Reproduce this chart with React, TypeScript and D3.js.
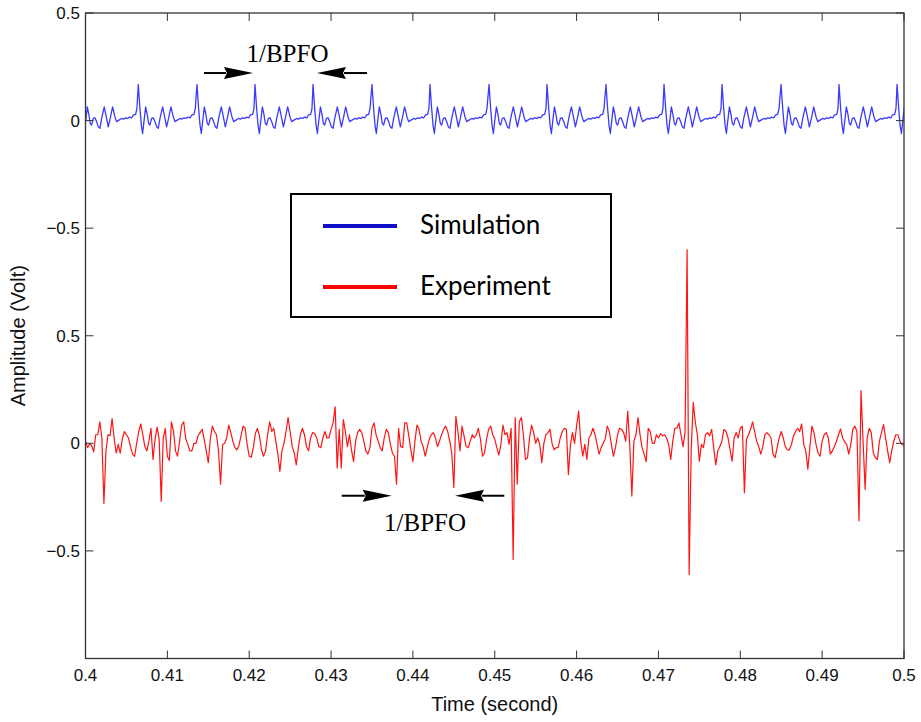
import React from "react";
import * as d3 from "d3";

// ---------------- data ----------------
const xTickValues = [0.4, 0.41, 0.42, 0.43, 0.44, 0.45, 0.46, 0.47, 0.48, 0.49, 0.5];
const xTickLabels = ["0.4", "0.41", "0.42", "0.43", "0.44", "0.45", "0.46", "0.47", "0.48", "0.49", "0.5"];
const panelTickValues = [0.5, 0, -0.5];
const panelTickLabels = ["0.5", "0", "\u22120.5"];

// Simulation: impulse instants (s)
const simImpactTimes = [
  0.39932, 0.40645, 0.41362, 0.42071, 0.4278, 0.435, 0.44209, 0.4493,
  0.45639, 0.46359, 0.47068, 0.47777, 0.48498, 0.49206, 0.49915,
];
// Simulation: one impulse response (ms after impact, volts)
const simPulseOffsetsMs = [
  0, 0.2, 0.37, 0.53, 0.69, 0.9, 1.1, 1.26, 1.42, 1.63, 1.83, 2.04, 2.24, 2.44, 2.65, 2.97,
  3.26, 3.46, 3.7, 3.99, 4.27, 4.48, 4.76, 5.09, 5.33, 5.58, 5.82, 6.06, 6.31, 6.55, 6.8, 6.96,
];
const simPulseValues = [
  0.168, 0.056, -0.021, -0.06, -0.005, 0.064, 0.026, -0.013, -0.021, 0.01, 0.013, -0.005,
  -0.029, -0.036, 0.01, 0.064, 0.01, -0.029, 0.01, 0.064, 0.018, -0.005, 0.002, 0.01, 0.007,
  0.013, 0.01, 0.016, 0.013, 0.026, 0.029, 0.056,
];

// Experiment: samples every 0.25 ms from 0.4 s
const expStart = 0.4;
const expStep = 0.00025;
const expValues = [
  0.01, -0.02, -0.003, -0.01, -0.04, 0.04, 0.04, 0.1, 0.025, -0.28,
  -0.035, 0.04, 0.035, 0.115, 0.025, -0.045, -0.005, -0.045, 0.02, 0.055,
  0.04, 0.025, -0.015, -0.05, -0.06, 0.0, 0.055, 0.09, 0.04, -0.015,
  -0.035, 0.01, 0.07, -0.075, 0.02, 0.075, 0.02, -0.27, 0.025, 0.07,
  -0.06, -0.08, 0.1, 0.055, -0.035, -0.06, 0.01, 0.085, 0.1, 0.02,
  -0.005, -0.035, -0.035, 0.0, 0.0, 0.035, 0.05, 0.065, 0.02, -0.035,
  -0.09, 0.02, 0.08, 0.055, 0.04, -0.035, -0.19, -0.005, 0.0, 0.025,
  0.085, 0.05, 0.01, -0.02, -0.03, -0.01, 0.035, 0.08, 0.07, -0.005,
  -0.06, -0.065, -0.02, 0.045, 0.07, 0.035, -0.03, -0.06, -0.035, 0.04,
  0.1, 0.055, 0.07, 0.01, -0.05, -0.13, -0.035, 0.0, 0.055, 0.12,
  0.055,
  -0.013, -0.045, -0.1, -0.02, 0.04, 0.07, 0.04, -0.015, -0.035, 0.025,
  0.05, 0.045, 0.025, -0.015, -0.02, 0.025, 0.055, 0.025, 0.025, 0.065,
  0.095, 0.17, -0.115, 0.065, -0.115, 0.11, 0.055, -0.015, 0.04, -0.03,
  -0.085, 0.01, 0.05, 0.065, 0.05, 0.01, -0.035, -0.05, -0.02, 0.07,
  0.095, 0.04, 0.01, -0.02, -0.035, 0.025, 0.065, 0.05, -0.005, -0.045,
  -0.06, -0.19, 0.07, -0.015, -0.02, 0.095, 0.095, 0.035, -0.03, -0.085,
  0.01, 0.085, 0.065, 0.01, -0.015, -0.06, -0.02, 0.02, 0.04, 0.05,
  0.025, -0.015, 0.01, 0.04, 0.065, 0.08, 0.055, 0.01, -0.045, -0.205,
  0.125, 0.055, -0.035, 0.08, 0.035, -0.015, -0.02, 0.01, 0.04, 0.025,
  0.04, 0.07, 0.02, -0.06, -0.045, 0.02, 0.065, 0.08, 0.04, 0.02,
  -0.02, -0.055, -0.005, 0.085, 0.04, 0.05, -0.005, 0.07, -0.54, 0.12,
  -0.19, 0.1, 0.12, 0.04, -0.075, -0.067, 0.025, 0.085, 0.05, 0.0,
  0.025, -0.005, -0.09, 0.0, 0.04, 0.05, 0.065, 0.0, -0.03, -0.02,
  -0.02, 0.025, 0.055, 0.07, 0.065, -0.145, -0.005, 0.05, 0.0, 0.08,
  0.15, 0.01, -0.06, -0.005, -0.075, 0.025, 0.04, 0.07, 0.04, -0.005,
  -0.05, -0.02, 0.0, 0.02, 0.08, 0.055, -0.005, -0.06, -0.02, 0.04,
  0.07, 0.065, 0.05, 0.01, 0.15, -0.015, -0.245, 0.01, 0.04, 0.12,
  0.04, -0.02, -0.05, -0.085, 0.07, 0.055, 0.0, 0.0, 0.04, 0.025,
  0.045, 0.035, 0.04, 0.025, -0.005, -0.075, 0.01, 0.07, 0.07, 0.095,
  0.04, -0.015, 0.05, 0.9, -0.61, -0.03, 0.19, 0.1, 0.04, -0.083,
  -0.005, -0.02, 0.04, 0.05, 0.035, 0.065, -0.02, -0.1, -0.035, -0.015,
  0.01, 0.065, 0.055, 0.025, -0.03, -0.083, 0.025, 0.05, 0.025, 0.07,
  0.08, -0.23, 0.02, 0.04, 0.065, 0.1, 0.055, 0.01, -0.015, -0.05,
  -0.015, 0.04, 0.05, 0.04, 0.025, -0.05, -0.067, -0.02, 0.025, 0.055,
  0.025, -0.015, -0.03, -0.03, -0.005, 0.035, 0.055, 0.07, 0.055, 0.09,
  -0.005, -0.035, -0.12, -0.02, 0.08, 0.05, -0.005, -0.045, -0.06, 0.01,
  0.04, 0.05, 0.025, -0.05, -0.035, -0.015, 0.01, 0.04, 0.067, 0.025,
  0.007, -0.005, -0.05, -0.005, 0.065, 0.08, 0.055, -0.36, 0.245, 0.01,
  -0.215, 0.025, 0.07, 0.05, -0.045, -0.067, -0.075, 0.01, 0.05, 0.087,
  0.025, -0.035, -0.09, -0.035, 0.01, 0.04, 0.04, 0.01, -0.005, -0.01,
];

const seriesNames = ["Simulation", "Experiment"];
const annotationText = "1/BPFO";

// ---------------- layout ----------------
const W = 921;
const H = 722;
const M = { left: 85.5, right: 904, top: 13, bottom: 658.5 };
const SIM_OFFSET = 1.0;
const EXP_OFFSET = -0.5;

const x = d3.scaleLinear().domain([0.4, 0.5]).range([M.left, M.right]);
const y = d3.scaleLinear().domain([-1.5, 1.5]).range([M.bottom, M.top]);

type P = [number, number];

const simPoints: P[] = [];
simImpactTimes.forEach((t0) =>
  simPulseOffsetsMs.forEach((o, k) => simPoints.push([t0 + o / 1000, simPulseValues[k]]))
);
const expPoints: P[] = expValues.map((v, i) => [expStart + i * expStep, v]);

const lineFor = (offset: number) =>
  d3
    .line<P>()
    .x((d) => x(d[0]))
    .y((d) => y(d[1] + offset));

const yTicks: { v: number; label: string }[] = [];
panelTickValues.forEach((v, i) => yTicks.push({ v: v + SIM_OFFSET, label: panelTickLabels[i] }));
panelTickValues.forEach((v, i) => yTicks.push({ v: v + EXP_OFFSET, label: panelTickLabels[i] }));

function Arrow({ from, to, offset }: { from: P; to: P; offset: number }) {
  const x1 = x(from[0]);
  const x2 = x(to[0]);
  const yy = y(from[1] + offset);
  const dir = Math.sign(x2 - x1);
  const headLen = 29;
  const half = 6;
  const base = x2 - dir * headLen;
  return (
    <g>
      <line x1={x1} y1={yy} x2={base + dir * 2} y2={yy} stroke="#000" strokeWidth={2} />
      <path d={`M${x2},${yy} L${base},${yy - half} L${base + dir * 3},${yy} L${base},${yy + half} Z`} fill="#000" />
    </g>
  );
}

export default function App() {
  const tickLen = 8;
  const axisColor = "#333";
  return (
    <svg
      width={W}
      height={H}
      style={{ position: "absolute", left: 0, top: 0, background: "#fff" }}
      fontFamily="'Liberation Sans', Arial, sans-serif"
    >
      <rect x={0} y={0} width={W} height={H} fill="#fff" />
      <defs>
        <clipPath id="plotClip">
          <rect x={M.left} y={M.top} width={M.right - M.left} height={M.bottom - M.top} />
        </clipPath>
      </defs>

      {/* series */}
      <g clipPath="url(#plotClip)">
        <path
          d={lineFor(SIM_OFFSET)(simPoints) || ""}
          fill="none"
          stroke="#3a3aff"
          strokeWidth={1.3}
          strokeLinejoin="round"
        />
        <path
          d={lineFor(EXP_OFFSET)(expPoints) || ""}
          fill="none"
          stroke="#ff1414"
          strokeWidth={1.2}
          strokeLinejoin="round"
        />
      </g>

      {/* axes box */}
      <rect
        x={M.left}
        y={M.top}
        width={M.right - M.left}
        height={M.bottom - M.top}
        fill="none"
        stroke={axisColor}
        strokeWidth={1.3}
      />

      {/* x ticks */}
      {xTickValues.map((v, i) => (
        <g key={"xt" + i}>
          <line x1={x(v)} x2={x(v)} y1={M.bottom} y2={M.bottom - tickLen} stroke={axisColor} strokeWidth={1} />
          <line x1={x(v)} x2={x(v)} y1={M.top} y2={M.top + tickLen} stroke={axisColor} strokeWidth={1} />
          <text x={x(v)} y={681} textAnchor="middle" fontSize={17} fill="#111">
            {xTickLabels[i]}
          </text>
        </g>
      ))}

      {/* y ticks */}
      {yTicks.map((t, i) => (
        <g key={"yt" + i}>
          <line x1={M.left} x2={M.left + tickLen} y1={y(t.v)} y2={y(t.v)} stroke={axisColor} strokeWidth={1} />
          <line x1={M.right} x2={M.right - tickLen} y1={y(t.v)} y2={y(t.v)} stroke={axisColor} strokeWidth={1} />
          <text x={80} y={y(t.v)} dy="0.36em" textAnchor="end" fontSize={17} fill="#111">
            {t.label}
          </text>
        </g>
      ))}

      {/* axis titles */}
      <text x={(M.left + M.right) / 2} y={711} textAnchor="middle" fontSize={20} fill="#111">
        Time (second)
      </text>
      <text
        transform={`translate(25,${(M.top + M.bottom) / 2}) rotate(-90)`}
        textAnchor="middle"
        fontSize={20}
        fill="#111"
      >
        Amplitude (Volt)
      </text>

      {/* annotations */}
      <Arrow from={[0.41448, 0.221]} to={[0.42046, 0.221]} offset={SIM_OFFSET} />
      <Arrow from={[0.43439, 0.221]} to={[0.42828, 0.221]} offset={SIM_OFFSET} />
      <text
        x={x(0.42468)}
        y={y(0.274 + SIM_OFFSET)}
        textAnchor="middle"
        fontFamily="'Liberation Serif', 'Times New Roman', serif"
        fontSize={25}
        fill="#000"
      >
        {annotationText}
      </text>
      <Arrow from={[0.4313, -0.2435]} to={[0.43741, -0.2435]} offset={EXP_OFFSET} />
      <Arrow from={[0.45117, -0.2435]} to={[0.44515, -0.2435]} offset={EXP_OFFSET} />
      <text
        x={x(0.44148)}
        y={y(-0.406 + EXP_OFFSET)}
        textAnchor="middle"
        fontFamily="'Liberation Serif', 'Times New Roman', serif"
        fontSize={25}
        fill="#000"
      >
        {annotationText}
      </text>

      {/* legend */}
      <g>
        <rect x={291} y={194} width={320} height={123} fill="#fff" stroke="#000" strokeWidth={2} />
        <line x1={323} x2={397} y1={226} y2={226} stroke="#1010c8" strokeWidth={4} />
        <line x1={323} x2={397} y1={287} y2={287} stroke="#ff0000" strokeWidth={4} />
        <text x={420} y={234} fontFamily="Lato, 'Open Sans', sans-serif" fontSize={26} fill="#000">
          {seriesNames[0]}
        </text>
        <text x={420} y={295} fontFamily="Lato, 'Open Sans', sans-serif" fontSize={26} fill="#000">
          {seriesNames[1]}
        </text>
      </g>
    </svg>
  );
}
